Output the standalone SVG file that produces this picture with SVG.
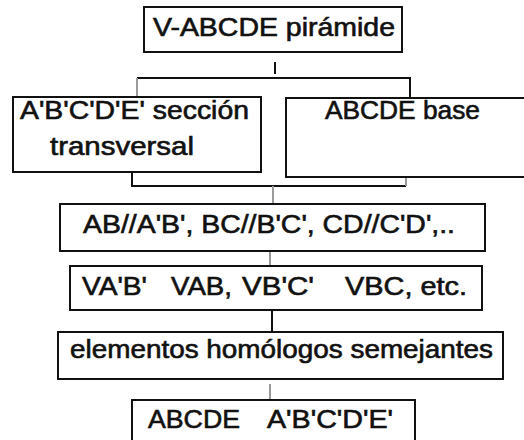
<svg xmlns="http://www.w3.org/2000/svg" width="524" height="440" viewBox="0 0 524 440">
<style>
.box{fill:#fff;stroke:#111;stroke-width:2}
.t{font-family:"Liberation Sans",Arial,Helvetica,sans-serif;font-size:25px;fill:#111;stroke:#111;stroke-width:0.6}
.c{stroke:#111;stroke-width:2;fill:none}
.cf{stroke:#999;stroke-width:2;fill:none}
</style>
<rect width="524" height="440" fill="#fff"/>
<g id="connectors">
<line class="c" x1="275" y1="62" x2="275" y2="74"/>
<polyline class="c" points="137,78 410,78 410,98"/>
<line class="cf" x1="137" y1="78" x2="137" y2="97"/>
<polyline class="c" points="132,172 132,186 406,186"/>
<line class="cf" x1="406" y1="177" x2="406" y2="186"/>
<line class="cf" x1="273" y1="186" x2="273" y2="204"/>
<line class="cf" x1="270" y1="251" x2="270" y2="266"/>
<line class="c" x1="272" y1="310" x2="272" y2="332"/>
<line class="cf" x1="270" y1="384" x2="270" y2="400"/>
</g>
<g id="n1">
<rect class="box" x="144" y="7" width="258" height="45"/>
<text class="t" x="153" y="36" textLength="242" lengthAdjust="spacingAndGlyphs">V-ABCDE pirámide</text>
</g>
<g id="n2">
<rect class="box" x="13" y="97" width="248" height="75"/>
<text class="t" x="20" y="119" textLength="229" lengthAdjust="spacingAndGlyphs">A'B'C'D'E' sección</text>
<text class="t" x="50" y="155" textLength="144" lengthAdjust="spacingAndGlyphs">transversal</text>
</g>
<g id="n3">
<rect class="box" x="286" y="98" width="250" height="79"/>
<text class="t" x="325" y="119" textLength="155" lengthAdjust="spacingAndGlyphs">ABCDE base</text>
</g>
<g id="n4">
<rect class="box" x="60" y="204" width="425" height="47"/>
<text class="t" x="83" y="233" textLength="372" lengthAdjust="spacingAndGlyphs">AB//A'B', BC//B'C', CD//C'D',..</text>
</g>
<g id="n5">
<rect class="box" x="70" y="266" width="412" height="44"/>
<text class="t" x="82" y="295" textLength="65" lengthAdjust="spacingAndGlyphs">VA'B'</text>
<text class="t" x="171" y="295" textLength="61" lengthAdjust="spacingAndGlyphs">VAB,</text>
<text class="t" x="242" y="295" textLength="72" lengthAdjust="spacingAndGlyphs">VB'C'</text>
<text class="t" x="345" y="295" textLength="122" lengthAdjust="spacingAndGlyphs">VBC, etc.</text>
</g>
<g id="n6">
<rect class="box" x="58" y="332" width="445" height="47"/>
<text class="t" x="70" y="358" textLength="423" lengthAdjust="spacingAndGlyphs">elementos homólogos semejantes</text>
</g>
<g id="n7">
<rect class="box" x="132" y="400" width="283" height="50"/>
<text class="t" x="148" y="428" textLength="92" lengthAdjust="spacingAndGlyphs">ABCDE</text>
<text class="t" x="267" y="428" textLength="126" lengthAdjust="spacingAndGlyphs">A'B'C'D'E'</text>
</g>
</svg>
